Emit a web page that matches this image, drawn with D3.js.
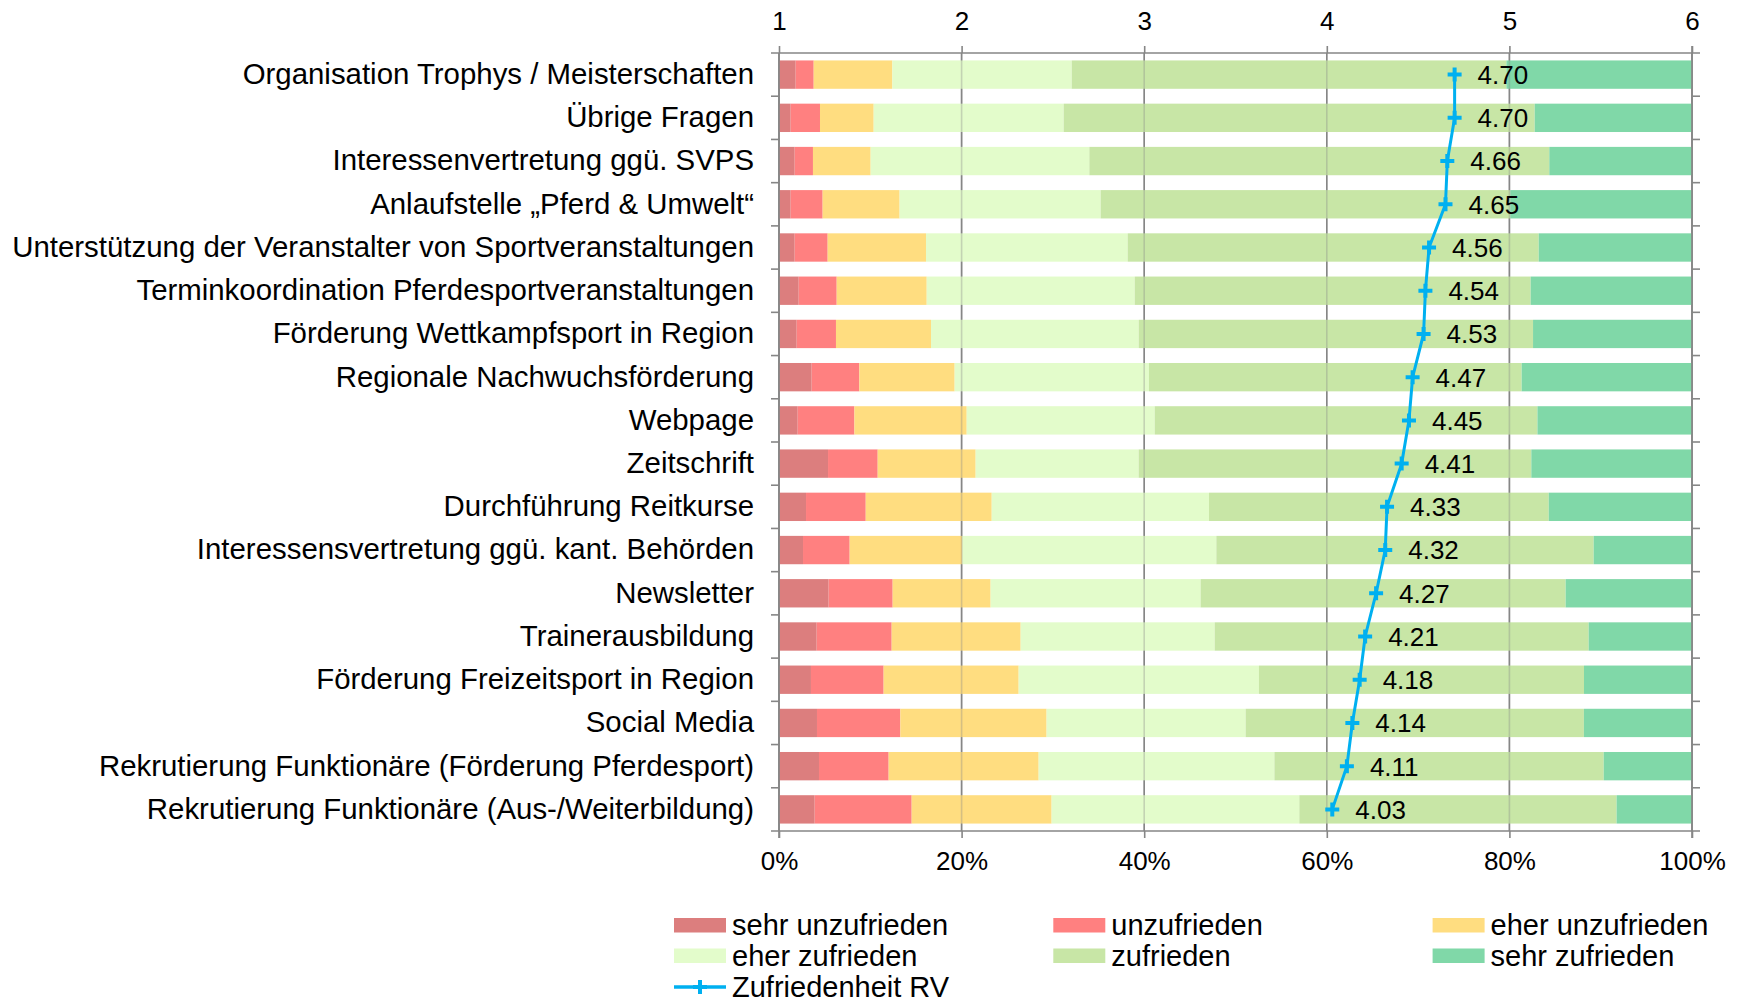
<!DOCTYPE html>
<html lang="de">
<head>
    <meta charset="utf-8">
    <title>Zufriedenheit RV</title>
    <style>
        body {
            margin: 0;
            background: #fff;
        }
        svg {
            display: block;
            font-family: "Liberation Sans", Arial, sans-serif;
        }
        .axis path, .axis line {
            stroke: #868686;
        }
        .axis text {
            fill: #000;
        }
    </style>
</head>
<body>
<svg width="1742" height="998"></svg>

<script src="https://d3js.org/d3.v7.min.js"></script>
<script>
  const categories = [
    "Organisation Trophys / Meisterschaften",
    "Übrige Fragen",
    "Interessenvertretung ggü. SVPS",
    "Anlaufstelle „Pferd & Umwelt“",
    "Unterstützung der Veranstalter von Sportveranstaltungen",
    "Terminkoordination Pferdesportveranstaltungen",
    "Förderung Wettkampfsport in Region",
    "Regionale Nachwuchsförderung",
    "Webpage",
    "Zeitschrift",
    "Durchführung Reitkurse",
    "Interessensvertretung ggü. kant. Behörden",
    "Newsletter",
    "Trainerausbildung",
    "Förderung Freizeitsport in Region",
    "Social Media",
    "Rekrutierung Funktionäre (Förderung Pferdesport)",
    "Rekrutierung Funktionäre (Aus-/Weiterbildung)"
  ];

  // shares in % per answer level, same order as categories
  const sehrUnzufrieden = [1.83, 1.28, 1.72, 1.28, 1.72, 2.16, 1.94, 3.58, 2.05, 5.37, 2.96, 2.63, 5.44, 4.13, 3.50, 4.16, 4.38, 3.91];
  const unzufrieden     = [1.97, 3.21, 2.00, 3.50, 3.61, 4.16, 4.30, 5.22, 6.21, 5.44, 6.54, 5.11, 7.01, 8.21, 7.96, 9.13, 7.63, 10.62];
  const eherUnzufrieden = [8.62, 5.88, 6.32, 8.43, 10.77, 9.86, 10.41, 10.44, 12.30, 10.73, 13.80, 12.34, 10.73, 14.13, 14.79, 16.02, 16.43, 15.33];
  const eherZufrieden   = [19.64, 20.81, 23.95, 22.02, 22.09, 22.78, 22.75, 21.28, 20.59, 17.85, 23.80, 27.82, 23.00, 21.25, 26.32, 21.80, 25.82, 27.13];
  const zufrieden       = [47.61, 51.59, 50.38, 44.87, 45.02, 43.37, 43.19, 40.82, 41.92, 43.01, 37.21, 41.33, 39.98, 40.96, 35.60, 37.05, 36.07, 34.75];
  const sehrZufrieden   = [20.33, 17.23, 15.63, 19.90, 16.79, 17.67, 17.41, 18.66, 16.93, 17.60, 15.69, 10.77, 13.84, 11.32, 11.83, 11.84, 9.67, 8.26];

  // mean satisfaction (scale 1..6)
  const zufriedenheitRV = [4.70, 4.70, 4.66, 4.65, 4.56, 4.54, 4.53, 4.47, 4.45, 4.41, 4.33, 4.32, 4.27, 4.21, 4.18, 4.14, 4.11, 4.03];

  const levels = ["sehr unzufrieden", "unzufrieden", "eher unzufrieden", "eher zufrieden", "zufrieden", "sehr zufrieden"];
  const levelColors = ["#DC7E7E", "#FF8080", "#FFDD80", "#E3FCCB", "#C8E6A6", "#80D8A8"];
  const lineName = "Zufriedenheit RV";
  const lineColor = "#00B0F0";

  const scoreTicks = [1, 2, 3, 4, 5, 6];
  const percentTicks = [0, 20, 40, 60, 80, 100];

  const margin = {top: 53, right: 50, bottom: 167, left: 779};

  const svg = d3.select("svg");
  const width = +svg.attr("width") - margin.left - margin.right;
  const height = +svg.attr("height") - margin.top - margin.bottom;

  const vis = svg.append("g")
    .attr("transform", `translate(${margin.left},${margin.top})`);

  // table for the stack
  const series = [sehrUnzufrieden, unzufrieden, eherUnzufrieden, eherZufrieden, zufrieden, sehrZufrieden];
  const table = categories.map((c, i) => {
    const row = {name: c};
    levels.forEach((l, j) => row[l] = series[j][i]);
    return row;
  });
  const stacked = d3.stack().keys(levels)(table);

  const xScale = d3.scaleLinear().domain([0, 100]).range([0, width]);
  const sScale = d3.scaleLinear().domain([1, 6]).range([0, width]);
  const yScale = d3.scaleBand()
    .domain(categories)
    .range([0, height])
    .paddingInner(0.344)
    .paddingOuter(0.172);

  const gridColor = "#868686";

  // gridlines under the bars
  vis.append("g")
    .selectAll("line")
    .data(percentTicks)
    .join("line")
    .attr("x1", d => xScale(d)).attr("x2", d => xScale(d))
    .attr("y1", 0).attr("y2", height)
    .attr("stroke", gridColor)
    .attr("stroke-width", 1.6);

  // stacked bars
  vis.append("g")
    .selectAll("g")
    .data(stacked)
    .join("g")
    .attr("fill", (d, i) => levelColors[i])
    .selectAll("rect")
    .data(d => d)
    .join("rect")
    .attr("x", d => xScale(d[0]))
    .attr("y", d => yScale(d.data.name))
    .attr("width", d => xScale(d[1]) - xScale(d[0]))
    .attr("height", yScale.bandwidth());

  // gridlines faintly through the bars
  vis.append("g")
    .selectAll("line")
    .data(percentTicks)
    .join("line")
    .attr("x1", d => xScale(d)).attr("x2", d => xScale(d))
    .attr("y1", 0).attr("y2", height)
    .attr("stroke", gridColor)
    .attr("stroke-opacity", 0.35)
    .attr("stroke-width", 1.6);

  // frame lines (top / bottom / left / right) with small overhang
  const frame = vis.append("g").attr("stroke", gridColor).attr("stroke-width", 1.6);
  frame.append("line").attr("x1", -8).attr("x2", width + 8).attr("y1", 0).attr("y2", 0);
  frame.append("line").attr("x1", -8).attr("x2", width + 8).attr("y1", height).attr("y2", height);
  frame.append("line").attr("x1", 0).attr("x2", 0).attr("y1", 0).attr("y2", height + 7);
  frame.append("line").attr("x1", width).attr("x2", width).attr("y1", -7).attr("y2", height + 7);

  // category boundary ticks on both sides
  const bounds = categories.slice(1).map(c => yScale(c) - yScale.step() * yScale.paddingInner() / 2);
  frame.selectAll(".ltick")
    .data(bounds)
    .join("line")
    .attr("x1", -8).attr("x2", 0)
    .attr("y1", d => d).attr("y2", d => d);
  frame.selectAll(".rtick")
    .data(bounds)
    .join("line")
    .attr("x1", width).attr("x2", width + 8)
    .attr("y1", d => d).attr("y2", d => d);

  // top axis 1..6
  vis.append("g")
    .attr("class", "axis")
    .call(d3.axisTop(sScale).tickValues(scoreTicks).tickFormat(d3.format("d"))
      .tickSize(7).tickSizeOuter(0).tickPadding(16))
    .call(g => g.select(".domain").remove())
    .selectAll("line").attr("stroke-width", 1.6);

  // bottom axis 0%..100%
  vis.append("g")
    .attr("class", "axis")
    .attr("transform", `translate(0,${height})`)
    .call(d3.axisBottom(xScale).tickValues(percentTicks).tickFormat(d => d + "%")
      .tickSize(7).tickSizeOuter(0).tickPadding(14))
    .call(g => g.select(".domain").remove())
    .selectAll("line").attr("stroke-width", 1.6);

  // category labels
  vis.append("g")
    .attr("class", "axis")
    .call(d3.axisLeft(yScale).tickSize(0).tickPadding(25))
    .call(g => g.select(".domain").remove());

  vis.selectAll(".axis text")
    .attr("font-family", null)
    .attr("font-size", null)
    .style("font-size", "26px");
  vis.selectAll(".axis .tick text")
    .filter(d => typeof d === "string")
    .style("font-size", "29.4px");

  // mean line
  const line = d3.line()
    .x(d => sScale(d.v))
    .y(d => yScale(d.name) + yScale.bandwidth() / 2);
  const meanPts = categories.map((c, i) => ({name: c, v: zufriedenheitRV[i]}));

  vis.append("path")
    .datum(meanPts)
    .attr("fill", "none")
    .attr("stroke", lineColor)
    .attr("stroke-width", 3)
    .attr("d", line);

  vis.append("g")
    .selectAll("path")
    .data(meanPts)
    .join("path")
    .attr("transform", d => `translate(${sScale(d.v)},${yScale(d.name) + yScale.bandwidth() / 2})`)
    .attr("d", "M-7,0H7M0,-7V7")
    .attr("stroke", lineColor)
    .attr("stroke-width", 4);

  vis.append("g")
    .selectAll("text")
    .data(meanPts)
    .join("text")
    .attr("x", d => sScale(d.v) + 23)
    .attr("y", d => yScale(d.name) + yScale.bandwidth() / 2)
    .attr("dy", "0.36em")
    .style("font-size", "26px")
    .text(d => d3.format(".2f")(d.v));

  // legend
  const legend = svg.append("g").attr("transform", "translate(674,918)");
  const legendItems = levels.map((l, i) => ({name: l, color: levelColors[i], col: i % 3, row: Math.floor(i / 3)}));
  const item = legend.selectAll("g")
    .data(legendItems)
    .join("g")
    .attr("transform", d => `translate(${d.col * 379.3},${d.row * 30.5})`);
  item.append("rect")
    .attr("width", 52).attr("height", 14.5)
    .attr("fill", d => d.color);
  item.append("text")
    .attr("x", 58).attr("y", 7.5).attr("dy", "0.34em")
    .style("font-size", "29px")
    .text(d => d.name);

  const lineItem = legend.append("g").attr("transform", `translate(0,${2 * 30.5})`);
  lineItem.append("line")
    .attr("x1", 0).attr("x2", 52).attr("y1", 8).attr("y2", 8)
    .attr("stroke", lineColor).attr("stroke-width", 3.5);
  lineItem.append("path")
    .attr("transform", "translate(26,8)")
    .attr("d", "M-7,0H7M0,-7V7")
    .attr("stroke", lineColor).attr("stroke-width", 4);
  lineItem.append("text")
    .attr("x", 58).attr("y", 8).attr("dy", "0.34em")
    .style("font-size", "29px")
    .text(lineName);
</script>
</body>
</html>
